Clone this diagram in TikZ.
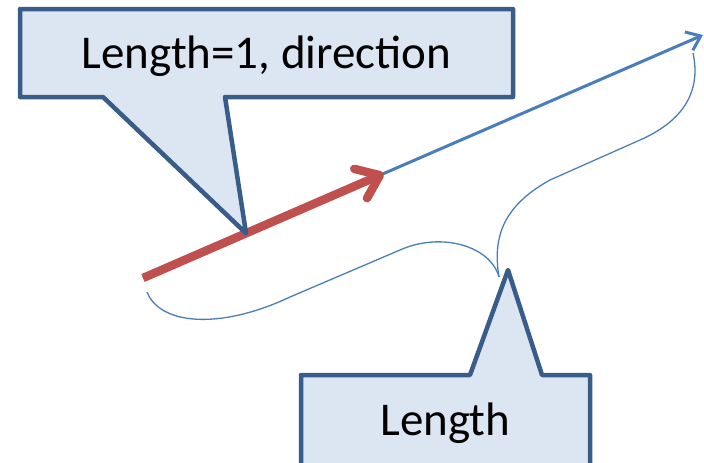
\documentclass[tikz,border=0pt]{standalone}
\usepackage{fontspec}
\setmainfont{Carlito}
\usepackage{xcolor}
\usetikzlibrary{arrows.meta, calc}

\definecolor{calloutfill}{RGB}{220,230,242}
\definecolor{calloutline}{RGB}{56,93,138}
\definecolor{unitred}{RGB}{192,80,77}
\definecolor{vecblue}{RGB}{74,126,187}

\begin{document}
\begin{tikzpicture}[x=1pt, y=-1pt,
    callout/.style={draw=calloutline, fill=calloutfill, line width=4.5pt, line join=round},
    label text/.style={font=\fontsize{47}{56}\selectfont, inner sep=0pt, anchor=base},
    vector/.style={draw=vecblue, line width=3pt, -{Straight Barb[length=13pt, width=20pt]}},
    unit/.style={draw=unitred, line width=8.5pt, -{Straight Barb[length=21pt, width=32pt, round]}},
    brace/.style={draw=vecblue, line width=1.3pt}]

    \clip (0,0) rectangle (704,463);

    \coordinate (origin) at (143,278);
    \coordinate (vecend) at (703,35);
    \coordinate (unitend) at ($(origin)!0.43!(vecend)$);
    \coordinate (unittip) at ($(origin)!0.184!(vecend)$);
    \coordinate (lentip) at (508,270);

    % the long vector and its unit part
    \draw [vector] (origin) -- (vecend);
    \draw [unit] (origin) -- (unitend);

    % brace under the vector
    \coordinate (braceleft) at (147,292);
    \coordinate (bracemid) at (499,277);
    \coordinate (braceright) at (693,53);
    \draw [brace] (braceleft) .. controls (160,325) and (220,330) .. (290,297)
        -- (400,250) .. controls (440,232) and (490,245) .. (bracemid);
    \draw [brace] (bracemid) .. controls (492,235) and (505,205) .. (550,180)
        -- (640,140) .. controls (690,118) and (700,85) .. (braceright);

    % callouts
    \draw [callout] (20,9) -- (513,9) -- (513,97) -- (225,97) -- (unittip)
        -- (103,97) -- (20,97) -- cycle;
    \node (dirlabel) [label text] at (266.5,68) {Length=1, direction};

    \draw [callout] (301,375) -- (470,375) -- (lentip) -- (542,375)
        -- (590,375) -- (590,480) -- (301,480) -- cycle;
    \node (lenlabel) [label text] at (445.5,435) {Length};

\end{tikzpicture}
\end{document}
